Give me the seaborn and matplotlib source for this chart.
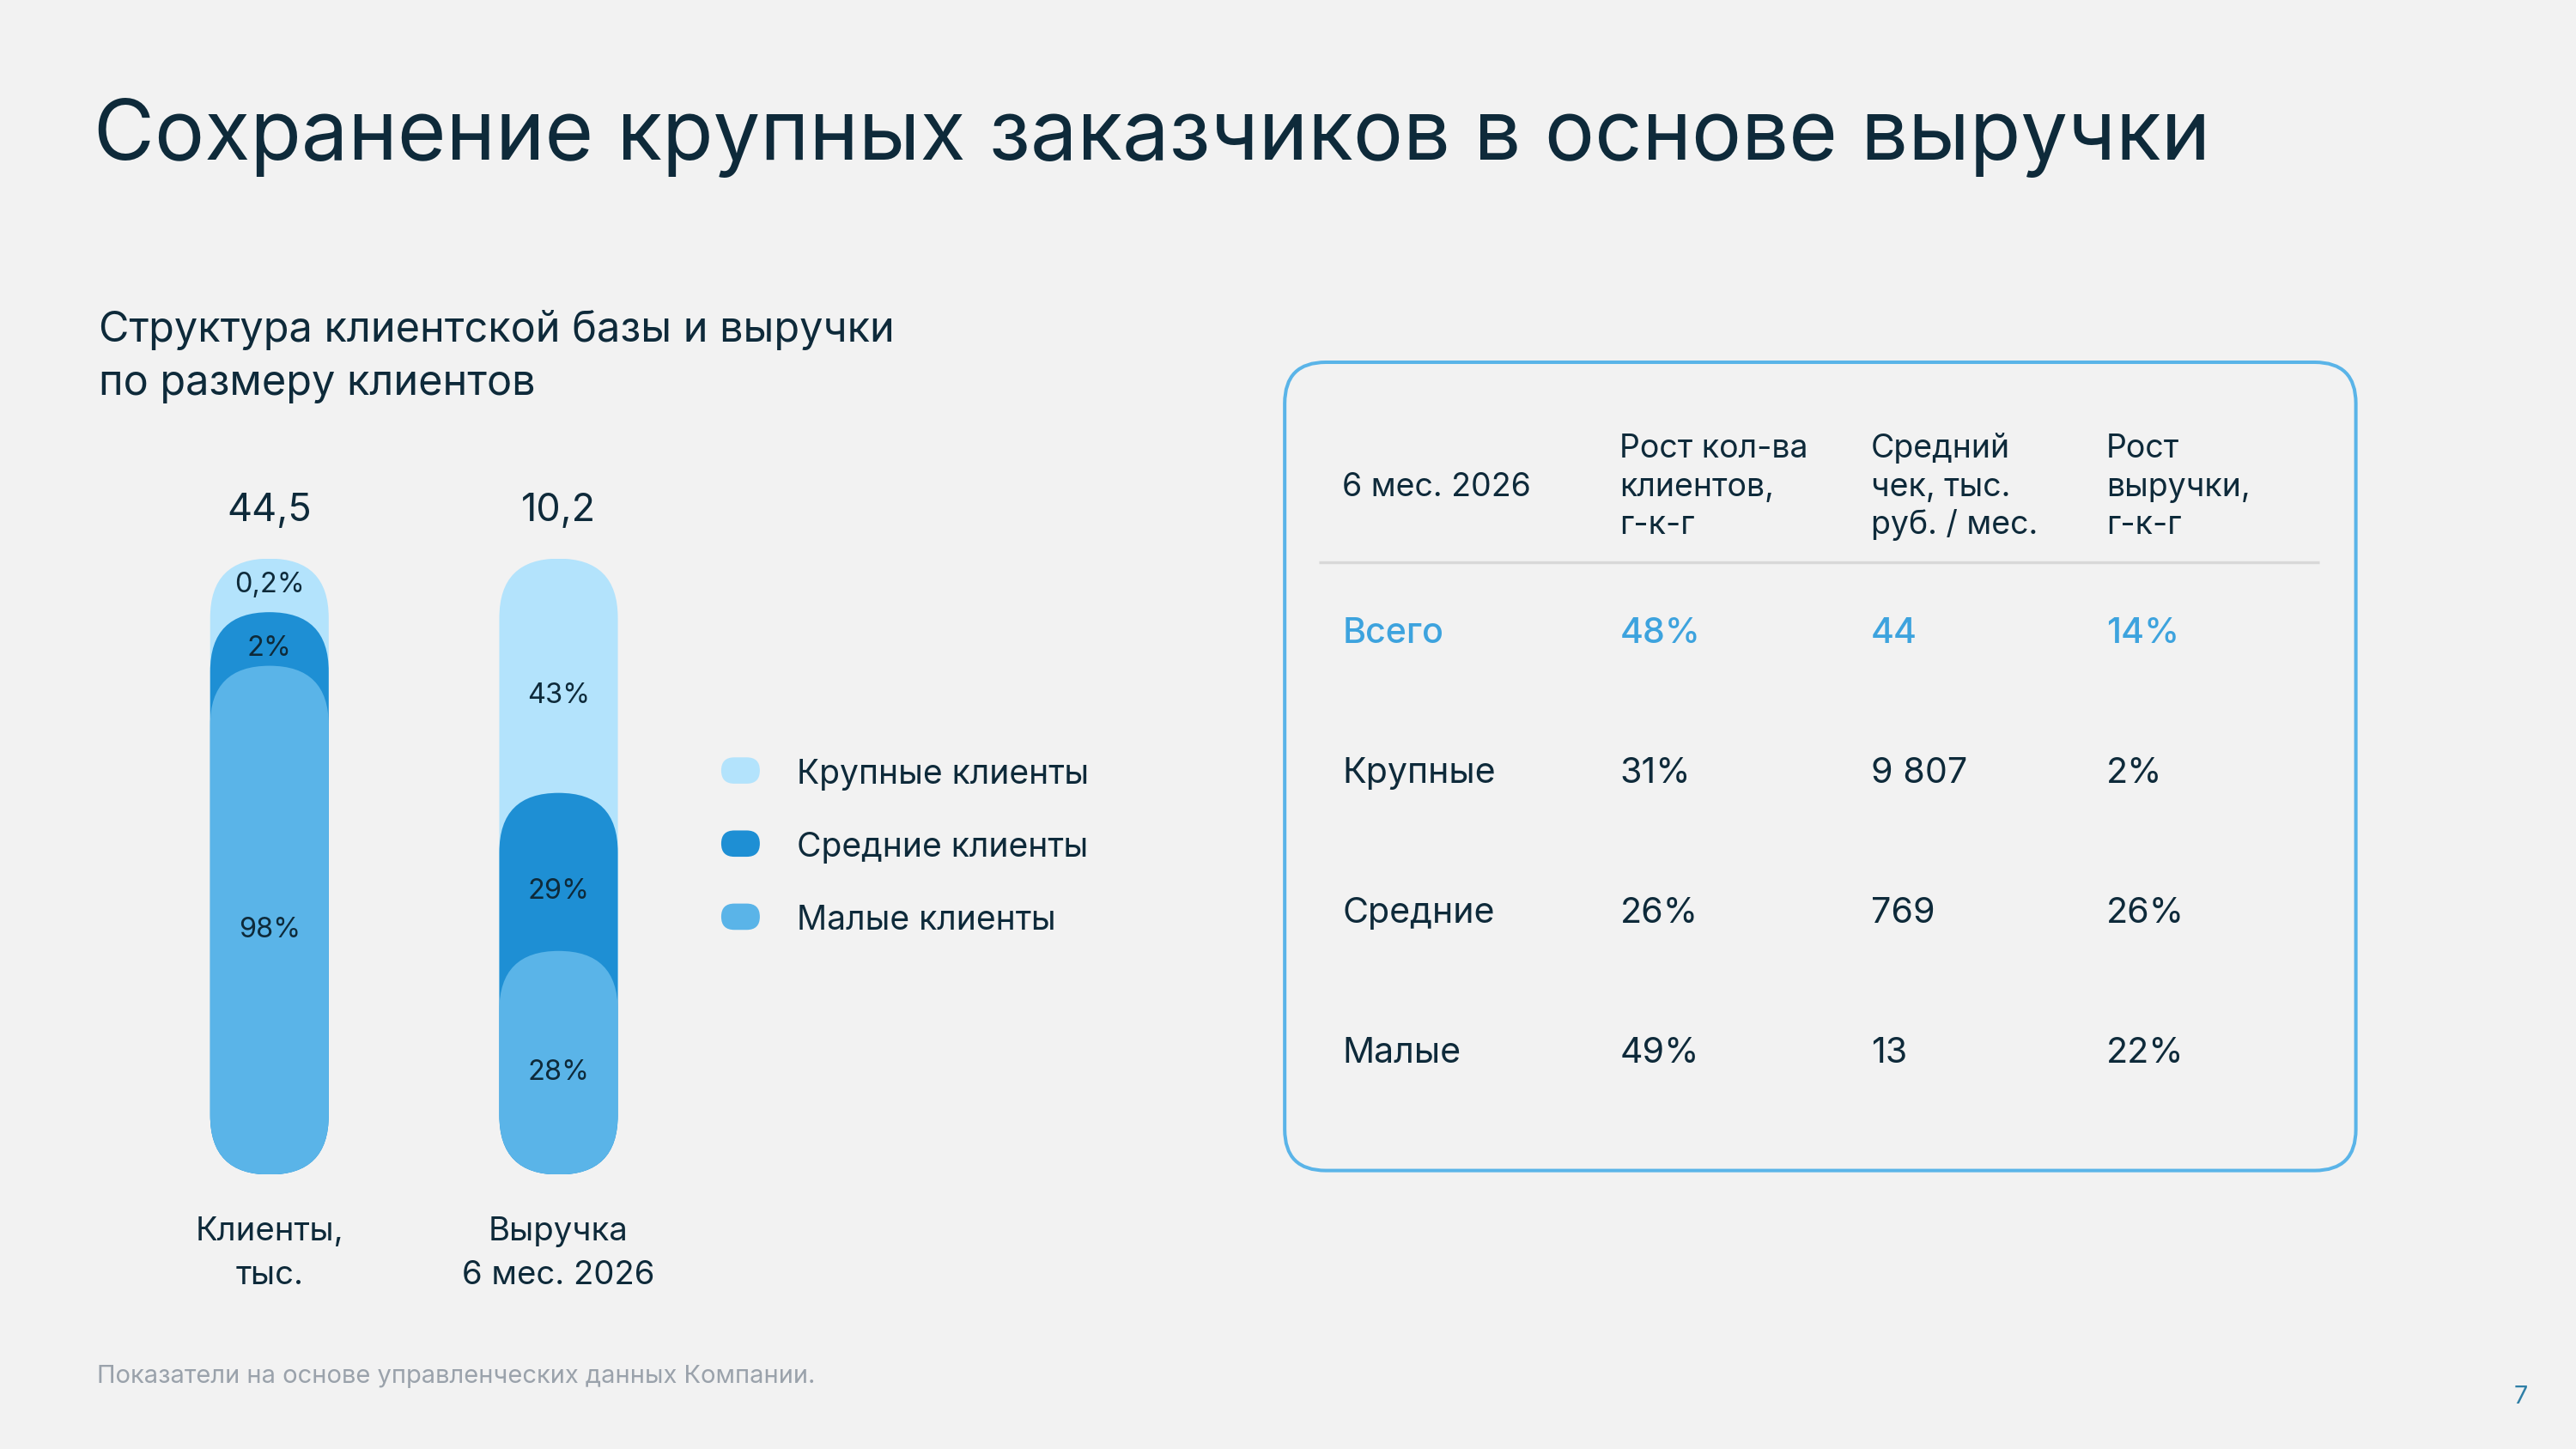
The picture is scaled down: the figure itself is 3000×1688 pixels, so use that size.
import numpy as np
import pandas as pd
import matplotlib
matplotlib.use('Agg')
import matplotlib.pyplot as plt
from matplotlib.patches import FancyBboxPatch
import seaborn as sns

# ---------------- data ----------------
bar_names = ['Клиенты,\nтыс.', 'Выручка\n6 мес. 2026']
bar_totals = ['44,5', '10,2']
segments = ['Крупные клиенты', 'Средние клиенты', 'Малые клиенты']
clients_share = [0.2, 2, 98]
revenue_share = [43, 29, 28]
share_labels = [['0,2%', '2%', '98%'], ['43%', '29%', '28%']]

table_cols = ['6 мес. 2026', 'Рост кол-ва\nклиентов,\nг-к-г',
              'Средний\nчек, тыс.\nруб. / мес.', 'Рост\nвыручки,\nг-к-г']
row_names = ['Всего', 'Крупные', 'Средние', 'Малые']
client_growth = ['48%', '31%', '26%', '49%']
avg_check = ['44', '9 807', '769', '13']
revenue_growth = ['14%', '2%', '26%', '22%']

# ---------------- style ----------------
BG = '#f2f2f2'
DARK = '#0e2a3a'
ACCENT = '#3da3de'
seg_colors = ['#b3e3fc', '#1e8fd4', '#5ab4e8']

sns.set_theme(style='white')
plt.rcParams['font.family'] = ['Inter', 'DejaVu Sans']
plt.rcParams['text.color'] = DARK

W, H = 1568, 882      # layout grid (slide pixels)
FS = 1.378            # slide px -> points

fig = plt.figure(figsize=(30, 16.88), dpi=100, facecolor=BG)
lay = fig.add_axes([0, 0, 1, 1])
lay.set_xlim(0, W)
lay.set_ylim(H, 0)
lay.axis('off')

def txt(x, y, s, size, **kw):
    lay.text(x, y, s, fontsize=size * FS, va=kw.pop('va', 'baseline'), **kw)

# titles
txt(57, 97, 'Сохранение крупных заказчиков в основе выручки', 50.8, color=DARK)
txt(60, 208, 'Структура клиентской базы и выручки', 25.4, color=DARK)
txt(60, 240.5, 'по размеру клиентов', 25.4, color=DARK)

# ---------------- pill bars ----------------
bx_left, bx_right, bx_top, bx_bot = 76, 428, 340, 715
bx = fig.add_axes([bx_left / W, 1 - bx_bot / H, (bx_right - bx_left) / W, (bx_bot - bx_top) / H])
bx.set_facecolor('none')
bar_w = 0.41
px_x = (bx_right - bx_left) / 2
px_y = (bx_bot - bx_top) / 100
cap = bar_w / 2 * px_x / px_y      # cap radius in y-units


def pill_tops(shares, floor=12):
    eff = np.maximum(np.asarray(shares, float), floor)
    eff = eff / eff.sum() * 100
    before = np.concatenate([[0], np.cumsum(eff)[:-1]])
    return 100 - before * (100 - 1.2 * cap) / 100


rows = []
label_pos = []
for name, shares in zip(bar_names, [clients_share, revenue_share]):
    tops = pill_tops(shares)
    for seg, t in zip(segments, tops):
        rows.append({'bar': name, 'segment': seg, 'top': t})
    nxt = np.append(tops[1:], 0)
    off = np.where(tops - nxt > 2 * cap, cap / 3, 0)
    upper = tops - off
    lower = np.append(upper[1:], 0)
    label_pos.append((upper + lower) / 2)
df = pd.DataFrame(rows)

sns.barplot(data=df, x='bar', y='top', hue='segment', hue_order=segments, order=bar_names,
            palette=seg_colors, dodge=False, width=bar_w, saturation=1, legend=False, ax=bx)
bx.set_xlim(-0.5, 1.5)
bx.set_ylim(0, 100)
bx.axis('off')

# turn the flat bars into pills
for p in list(bx.patches):
    x0, y0, w, h = p.get_x(), p.get_y(), p.get_width(), p.get_height()
    fc = p.get_facecolor()
    p.remove()
    bx.add_patch(FancyBboxPatch((x0, y0), w, h, boxstyle=f'round,pad=0,rounding_size={w / 2}',
                                mutation_aspect=px_x / px_y, fc=fc, ec='none', lw=0))

for i in range(len(bar_names)):
    for lab, y in zip(share_labels[i], label_pos[i]):
        bx.text(i, y, lab, ha='center', va='center', fontsize=17 * FS, color=DARK)

centers = [164, 340]
for cx, tot, name in zip(centers, bar_totals, bar_names):
    txt(cx, 317, tot, 23.5, ha='center')
    for k, line in enumerate(name.split('\n')):
        txt(cx, 755 + k * 26.5, line, 20, ha='center')

# legend
for k, (seg, c) in enumerate(zip(segments, seg_colors)):
    base = 477 + k * 44.5
    lay.add_patch(FancyBboxPatch((439, base - 16), 23.5, 16, boxstyle='round,pad=0,rounding_size=8',
                                 fc=c, ec='none'))
    txt(485, base, seg, 20.4)

# ---------------- table ----------------
lay.add_patch(FancyBboxPatch((782, 220.5), 652, 492, boxstyle='round,pad=0,rounding_size=25',
                             fc='none', ec='#5ab4e8', lw=2.9))
col_x = [817, 986, 1139, 1282]
txt(col_x[0], 302, table_cols[0], 19.6)
for cx, head in zip(col_x[1:], table_cols[1:]):
    for k, line in enumerate(head.split('\n')):
        txt(cx, 278.6 + k * 23.3, line, 19.6)
lay.plot([803, 1411.5], [342, 342], color='#d8d8d8', lw=2.4, solid_capstyle='butt')

for r, vals in enumerate(zip(row_names, client_growth, avg_check, revenue_growth)):
    base = 391.5 + r * 85.2
    color = ACCENT if r == 0 else DARK
    weight = 'medium' if r == 0 else 'normal'
    for cx, v in zip(col_x, vals):
        txt(cx, base, v, 21.5, color=color, fontweight=weight)

# footer
txt(59, 842, 'Показатели на основе управленческих данных Компании.', 15.2, color='#9aa2ab')
txt(1530, 854.5, '7', 15, color='#2f7fa6')

fig.savefig('out.png', dpi=100, facecolor=BG)
